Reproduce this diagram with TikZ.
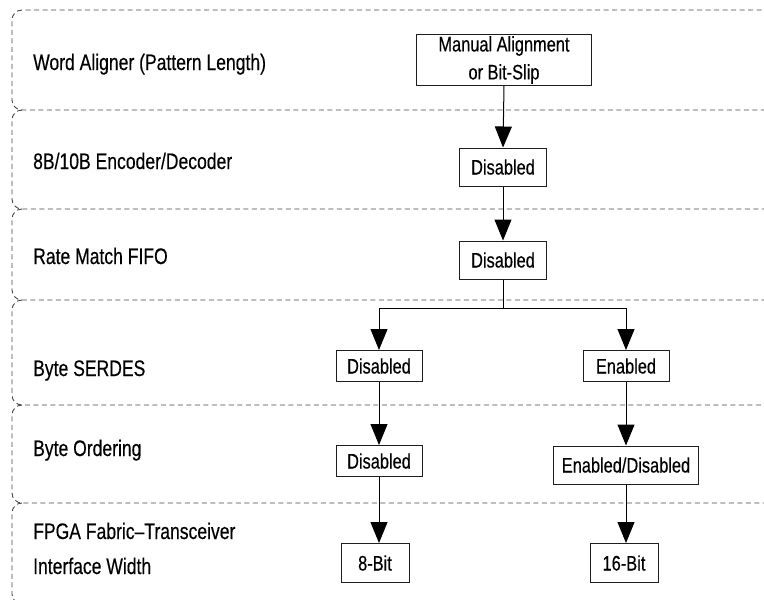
\documentclass[tikz,border=0pt]{standalone}
\usepackage{fontspec}
\setmainfont{Liberation Sans}[FakeStretch=0.78, FakeBold=0.35]
\usetikzlibrary{positioning, arrows.meta}
\definecolor{rowgray}{RGB}{70, 70, 70}
\definecolor{boxline}{RGB}{30, 30, 30}

\begin{document}
\begin{tikzpicture}[
    x=1pt, y=-1pt,
    rowline/.style={
        draw=rowgray,
        line width=0.9pt,
        dash pattern=on 5pt off 3.5pt,
        rounded corners=10pt
    },
    rowlbl/.style={
        anchor=base west,
        align=left,
        inner sep=0pt,
        font=\fontsize{22.5}{35}\selectfont
    },
    optbox/.style={
        draw=boxline,
        line width=1pt,
        align=center,
        inner sep=0pt,
        font=\fontsize{21}{28}\selectfont
    },
    flow/.style={
        -{Triangle[width=17pt, length=21pt]},
        line width=1pt
    }
]
\path[use as bounding box, clip] (0,0) rectangle (764,600);

% === Rows ===
\draw[rowline] (770,10) -- (12,10) -- (12,110) -- (770,110);
\foreach \t/\b in {110/209, 209/300, 300/405, 405/503, 503/604}
    \draw[rowline] (22,\t) -- (12,\t) -- (12,\b) -- (770,\b);

% === Row labels ===
\node[rowlbl] (lalign) at (33,70) {Word Aligner (Pattern Length)};
\node[rowlbl] (lcode) at (33,169) {8B/10B Encoder/Decoder};
\node[rowlbl] (lrate) at (33,264) {Rate Match FIFO};
\node[rowlbl] (lserdes) at (33,376) {Byte SERDES};
\node[rowlbl] (lorder) at (33,456) {Byte Ordering};
\node[rowlbl] (lwidth) at (33,574) {FPGA Fabric–Transceiver\\Interface Width};

% === Settings ===
\node[optbox, minimum width=175pt, minimum height=51pt] (align) at (504,60) {Manual Alignment\\or Bit-Slip};
\node[optbox, minimum width=87pt, minimum height=38pt] (code) at (503,167) {Disabled};
\node[optbox, minimum width=87pt, minimum height=38pt] (rate) at (503,260) {Disabled};
\node[optbox, minimum width=86pt, minimum height=31pt] (serdesoff) at (379,366) {Disabled};
\node[optbox, minimum width=86pt, minimum height=31pt] (serdeson) at (626,366) {Enabled};
\node[optbox, minimum width=86pt, minimum height=31pt] (orderoff) at (379,461) {Disabled};
\node[optbox, minimum width=145pt, minimum height=38pt] (orderon) at (626,465) {Enabled/Disabled};
\node[optbox, minimum width=68pt, minimum height=39pt] (narrow) at (375,563) {8-Bit};
\node[optbox, minimum width=68pt, minimum height=39pt] (wide) at (624,563) {16-Bit};

% === Arrows ===
\coordinate (split) at (503,308);
\draw[flow] (align.south) -- (code.north);
\draw[flow] (code.south) -- (rate.north);
\draw[line width=1pt] (rate.south) -- (split);
\draw[flow] (split) -| (serdesoff.north);
\draw[flow] (split) -| (serdeson.north);
\draw[flow] (serdesoff.south) -- (orderoff.north);
\draw[flow] (serdeson.south) -- (orderon.north);
\draw[flow] (orderoff.south) -- (orderoff.south |- narrow.north);
\draw[flow] (orderon.south) -- (orderon.south |- wide.north);

\end{tikzpicture}
\end{document}
